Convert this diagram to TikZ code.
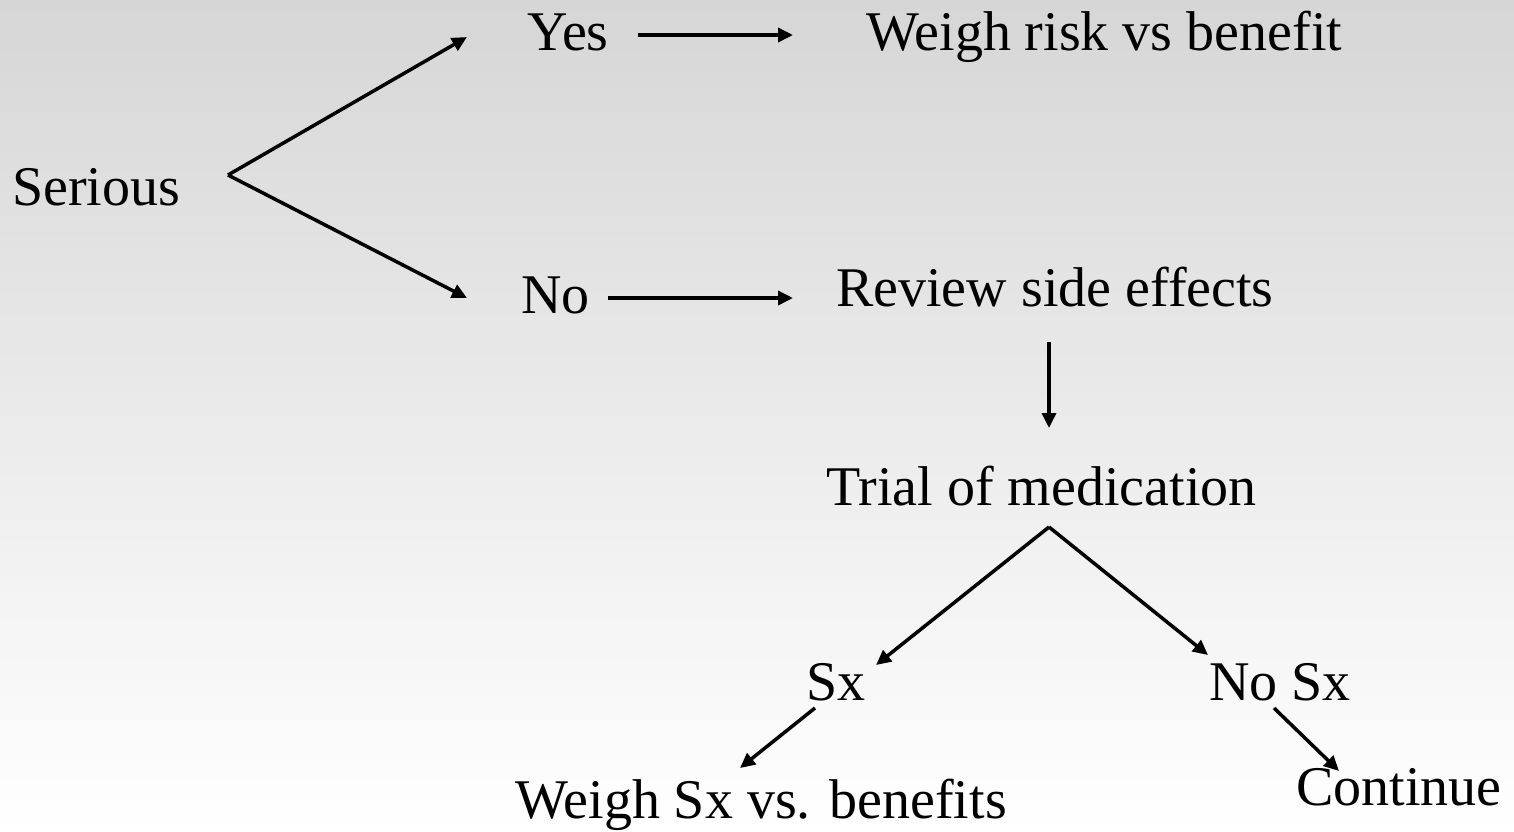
\documentclass[tikz,border=0pt]{standalone}
\usepackage{fontspec}
\setmainfont{Liberation Serif}
\usetikzlibrary{arrows.meta}
\definecolor{topg}{RGB}{214,214,214}
\begin{document}
\begin{tikzpicture}[x=1pt,y=-1pt,
  lbl/.style={anchor=base west,inner sep=0pt,font=\fontsize{56}{60}\selectfont},
  arr/.style={line width=3.5pt,-{Triangle[length=15pt,width=14pt]}}]
\shade[top color=topg,bottom color=white] (0,0) rectangle (1514,831);
\useasboundingbox (0,0) rectangle (1514,831);
% nodes
\node[lbl] (serious) at (12,205) {Serious};
\node[lbl] (yes) at (527,50) {Yes};
\node[lbl] (wrisk) at (866,50) {Weigh risk vs benefit};
\node[lbl] (no) at (521,313) {No};
\node[lbl] (review) at (836,306) {Review side effects};
\node[lbl] (trial) at (826,505) {Trial of medication};
\node[lbl] (sx) at (806,700) {Sx};
\node[lbl] (nosx) at (1209,700) {No Sx};
\node[lbl] (wsx) at (515,818) {Weigh Sx vs. benefits};
\node[lbl] (cont) at (1296,805) {Continue};
% connector points
\coordinate (sfork) at (228,175);
\coordinate (yesin) at (467,37);
\coordinate (noin) at (467,298);
\coordinate (yesout) at (638,35);
\coordinate (wriskin) at (793,35);
\coordinate (noout) at (608,298);
\coordinate (reviewin) at (793,298);
\coordinate (reviewout) at (1049,342);
\coordinate (trialin) at (1049,428);
\coordinate (tfork) at (1049,527);
\coordinate (sxin) at (876,665);
\coordinate (nosxin) at (1208,655);
\coordinate (sxout) at (815,708);
\coordinate (wsxin) at (740,768);
\coordinate (nosxout) at (1274,708);
\coordinate (contin) at (1339,771);
% connectors
\draw[arr] (sfork) -- (yesin);
\draw[arr] (sfork) -- (noin);
\draw[arr] (yesout) -- (wriskin);
\draw[arr] (noout) -- (reviewin);
\draw[arr] (reviewout) -- (trialin);
\draw[arr] (tfork) -- (sxin);
\draw[arr] (tfork) -- (nosxin);
\draw[arr] (sxout) -- (wsxin);
\draw[arr] (nosxout) -- (contin);
\end{tikzpicture}
\end{document}
